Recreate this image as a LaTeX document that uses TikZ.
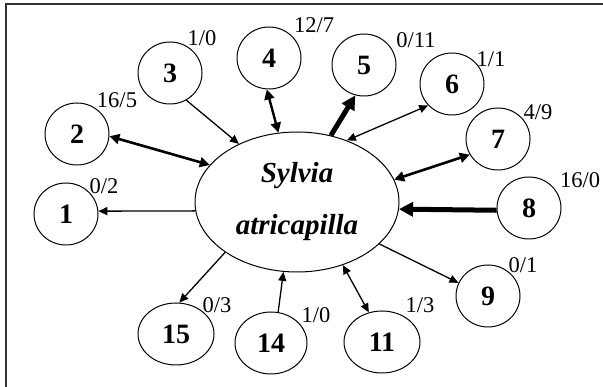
\documentclass[tikz,border=0pt]{standalone}
\usepackage{fontspec}
\setmainfont{Liberation Serif}
\usetikzlibrary{shapes.geometric,arrows.meta}
\begin{document}
\begin{tikzpicture}[x=1pt,y=-1pt,
  site/.style={draw,ellipse,line width=1pt,minimum width=64pt,minimum height=62pt,inner sep=0pt,
    font=\fontsize{28}{32}\selectfont\bfseries},
  wide/.style={minimum width=76pt},
  lab/.style={font=\fontsize{22.5}{26}\selectfont,inner sep=0pt},
  title/.style={font=\fontsize{29}{33}\selectfont\bfseries\itshape,inner sep=0pt},
  thin/.style={line width=1.3pt,-{Triangle[length=9pt,width=8pt]}},
  thinb/.style={line width=1.3pt,{Triangle[length=9pt,width=8pt]}-{Triangle[length=9pt,width=8pt]}},
  medb/.style={line width=2.6pt,{Triangle[length=10pt,width=10pt]}-{Triangle[length=10pt,width=10pt]}},
  heavy/.style={line width=5pt,-{Triangle[length=14pt,width=14pt]}}]
\useasboundingbox (0,0) rectangle (603,387);
\draw[line width=2pt,black!80] (6,387) -- (6,4) -- (603,4);
\node[draw,ellipse,line width=1pt,minimum width=204pt,minimum height=140pt,inner sep=0pt] (e) at (297,202) {};
\node[title] (t1) at (297,176) {Sylvia};
\node[title] (t2) at (297,228) {atricapilla};
\node[site] (c1) at (66,214) {1};
\node[site] (c2) at (77,134) {2};
\node[site] (c3) at (170,73) {3};
\node[site] (c4) at (269,58) {4};
\node[site] (c5) at (364,65) {5};
\node[site] (c6) at (452,84) {6};
\node[site] (c7) at (498,139) {7};
\node[site] (c8) at (529,208) {8};
\node[site] (c9) at (488,296) {9};
\node[site,wide] (c11) at (382,342) {11};
\node[site,minimum width=72pt] (c14) at (271,343) {14};
\node[site,wide] (c15) at (176,334) {15};
\node[lab] (l1) at (104,186) {0/2};
\node[lab] (l2) at (117,100) {16/5};
\node[lab] (l3) at (202,38) {1/0};
\node[lab] (l4) at (314,25) {12/7};
\node[lab] (l5) at (416,40) {0/11};
\node[lab] (l6) at (491,59) {1/1};
\node[lab] (l7) at (538,112) {4/9};
\node[lab] (l8) at (580,180) {16/0};
\node[lab] (l9) at (523,265) {0/1};
\node[lab] (l11) at (420,305) {1/3};
\node[lab] (l14) at (316,315) {1/0};
\node[lab] (l15) at (217,305) {0/3};
\draw[thin] (e.185) -- (c1.5);
\draw[medb] (c2.-4) -- (e.157);
\draw[thin] (c3.-59) -- (e.135);
\draw[medb,line width=2.4pt] (c4.-94) -- (e.105);
\draw[heavy] (e.63) -- (c5.-106);
\draw[thinb] (e.51) -- (c6.-138);
\draw[medb] (e.13) -- (c7.-151);
\draw[heavy] (c8.184) -- (e.-4.5);
\draw[thin] (e.-27) -- (c9.156);
\draw[thinb] (e.-54) -- (c11.114);
\draw[thin] (c14.77) -- (e.-101);
\draw[thin] (e.-145) -- (c15.84);
\end{tikzpicture}
\end{document}
